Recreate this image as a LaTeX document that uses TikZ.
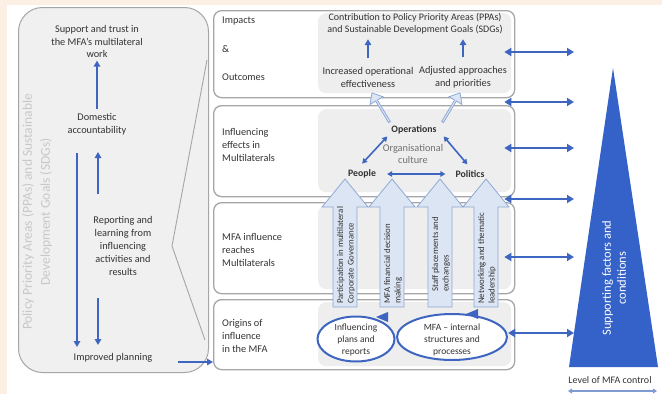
\documentclass[tikz,border=0pt]{standalone}
\usepackage{fontspec}
\setmainfont{Carlito}
\usetikzlibrary{shapes.geometric,shapes.arrows,arrows.meta}
\definecolor{peach}{HTML}{FCEFE4}
\definecolor{myblue}{RGB}{62,102,192}
\definecolor{triblue}{RGB}{52,98,200}
\definecolor{boxgray}{HTML}{A6A6A6}
\definecolor{innergray}{HTML}{EEEEEE}
\definecolor{leftgray}{HTML}{F0F0F0}
\definecolor{fatfill}{HTML}{DCE5F3}
\definecolor{fatborder}{HTML}{8FA9D6}
\definecolor{txtgray}{HTML}{C8C8C8}
\definecolor{txt}{HTML}{333333}
\begin{document}
\begin{tikzpicture}[x=1pt,y=-1pt,
  every node/.style={inner sep=0pt, text=txt},
  lbl/.style={align=center, font=\fontsize{10.3}{12.8}\selectfont},
  boxlbl/.style={align=left, anchor=west, font=\fontsize{10.3}{13}\selectfont},
  vlbl/.style={align=left, anchor=west, rotate=90, font=\fontsize{8.8}{10.5}\selectfont},
  bld/.style={font=\fontsize{9.8}{11}\selectfont\bfseries},
  bluearr/.style={draw=myblue, line width=1.8pt, -{Triangle[length=6pt,width=6.5pt]}},
  dbl/.style={draw=myblue, line width=2.2pt, {Triangle[length=7pt,width=8pt]}-{Triangle[length=7pt,width=8pt]}},
  dblsm/.style={draw=myblue, line width=1.6pt, {Triangle[length=5pt,width=5.5pt]}-{Triangle[length=5pt,width=5.5pt]}},
  frame/.style={draw=boxgray, line width=1.3pt, rounded corners=8pt, fill=white, anchor=north west},
  innerbox/.style={fill=innergray, rounded corners=8pt, anchor=north west},
  fat/.style={draw=fatborder, fill=fatfill, line width=0.8pt},
  fatdiag/.style={single arrow, draw=fatborder, fill=fatfill, line width=0.8pt, minimum height=34pt, minimum width=15pt, single arrow head extend=2.5pt, single arrow tip angle=80},
  ell/.style={ellipse, draw=myblue, line width=2pt, fill=white}
]
% background
\fill[peach] (0,0) rectangle (662,394);
\fill[white] (7,5) rectangle (662,394);
\path[use as bounding box] (0,0) rectangle (662,394);

% ---------------- left box ----------------
\node[draw=boxgray, line width=1pt, fill=leftgray, rounded corners=24pt, anchor=north west,
      minimum width=190pt, minimum height=365pt] (lb) at (18,7) {};
\draw[boxgray, line width=0.9pt] (207,60) -- (172,246) -- (205,340);

\node[rotate=90, align=center, text=txtgray, font=\fontsize{13.5}{18}\selectfont] (ppa) at (37,212)
  {Policy Priority Areas (PPAs) and Sustainable\\Development Goals (SDGs)};

\node[lbl] (sup) at (97,41.5) {Support and trust in\\the MFA's multilateral\\work};
\node[lbl] (dom) at (97,124.5) {Domestic\\accountability};
\node[lbl] (rep) at (123,246) {Reporting and\\learning from\\influencing\\activities and\\results};
\node[lbl] (imp) at (113,358) {Improved planning};

\coordinate (la1) at (77,153);
\coordinate (la2) at (77,347);
\coordinate (sa1) at (98,194);
\coordinate (sa2) at (98,152);
\coordinate (sb1) at (98,298);
\coordinate (sb2) at (98,345);
\coordinate (ip) at (178,362);

\draw[bluearr] ([yshift=5pt]dom.north) -- ([yshift=-2.5pt]sup.south);
\draw[bluearr] (la1) -- (la2);
\draw[bluearr] (sa1) -- (sa2);
\draw[bluearr] (sb1) -- (sb2);

% ---------------- middle boxes ----------------
\node[frame, minimum width=301pt, minimum height=87pt] (b1) at (213,10) {};
\node[frame, minimum width=301pt, minimum height=91pt] (b2) at (213,105) {};
\node[frame, minimum width=301pt, minimum height=91pt] (b3) at (213,202) {};
\node[frame, minimum width=301pt, minimum height=70pt] (b4) at (213,299) {};

\node[innerbox, minimum width=193pt, minimum height=80pt] (g1) at (318,13) {};
\node[innerbox, minimum width=193pt, minimum height=83pt] (g2) at (318,109) {};
\node[innerbox, minimum width=193pt, minimum height=84pt] (g3) at (318,205) {};
\node[innerbox, minimum width=193pt, minimum height=64pt] (g4) at (318,302) {};

\draw[bluearr] (ip) -- (b4.west |- ip);

% box labels
\node[boxlbl] (l1a) at (222,21) {Impacts};
\node[boxlbl] (l1b) at (222,49) {\&};
\node[boxlbl] (l1c) at (222,77) {Outcomes};
\node[boxlbl] (l2) at (222,145) {Influencing\\effects in\\Multilaterals};
\node[boxlbl] (l3) at (222,250) {MFA influence\\reaches\\Multilaterals};
\node[boxlbl] (l4) at (222,336) {Origins of\\influence\\in the MFA};

% box 1 content
\node[lbl, font=\fontsize{10}{12}\selectfont] (con) at (415,24) {Contribution to Policy Priority Areas (PPAs)\\and Sustainable Development Goals (SDGs)};
\node[lbl] (inc) at (368,77.5) {Increased operational\\effectiveness};
\node[lbl] (adj) at (463,77.5) {Adjusted approaches\\and priorities};
\draw[bluearr] ([yshift=9pt]inc.north) -- ([yshift=-4.5pt]inc.north |- con.south);
\draw[bluearr] ([yshift=9pt]adj.north) -- ([yshift=-4.5pt]adj.north |- con.south);

% box 2 content
\node[bld] (ops) at (414,130) {Operations};
\node[lbl, text=txt!70] (org) at (413,154) {Organisational\\culture};
\node[bld] (peo) at (362,174) {People};
\node[bld] (pol) at (470,174) {Politics};
\draw[dblsm] ([shift={(-14pt,6pt)}]peo.north east) -- ([shift={(-4pt,-2pt)}]ops.south west);
\draw[dblsm] ([shift={(7pt,-2pt)}]ops.south east) -- ([shift={(12pt,6pt)}]pol.north west);
\draw[dblsm] ([xshift=11pt]peo.east) -- ([xshift=-10pt]pol.west);

% diagonal fat arrows
\node[fatdiag, rotate=121] (fa1) at (381,108) {};
\node[fatdiag, rotate=59] (fa2) at (451,108) {};

% vertical fat arrows
\foreach \cx in {345,392,440,486}{
  \draw[fat] (\cx-12,307) -- (\cx-12,207) -- (\cx-23,207) -- (\cx,179) -- (\cx+23,207)
     -- (\cx+12,207) -- (\cx+12,307) -- cycle;
}
\node[vlbl] (v1) at (346,304) {Participation in multilateral\\Corporate Governance};
\node[vlbl] (v2) at (393,304) {MFA financial decision\\making};
\node[vlbl] (v3) at (441,292) {Staff placements and\\exchanges};
\node[vlbl] (v4) at (487,304) {Networking and thematic\\leadership};

% box 4 ellipses
\node[ell, minimum width=77pt, minimum height=45pt] (e1) at (356,339) {};
\node[ell, minimum width=110pt, minimum height=46pt] (e2) at (452,337) {};
\node[lbl, font=\fontsize{9.5}{12}\selectfont] (e1t) at (356,340) {Influencing\\plans and\\reports};
\node[lbl, font=\fontsize{9.5}{12}\selectfont] (e2t) at (452,340) {MFA -- internal\\structures and\\processes};
\fill[myblue] (388,312) -- (388,322) -- (376,317) -- cycle;
\fill[myblue] (478,309) -- (478,319) -- (466,314) -- cycle;

% right double arrows
\coordinate (r1) at (574,52);
\coordinate (r2) at (574,102);
\coordinate (r3) at (574,148);
\coordinate (r4) at (574,199);
\coordinate (r5) at (574,257);
\coordinate (r6) at (574,333);
\draw[dbl] (b1.east |- r1) ++(-11,0) -- (r1);
\draw[dbl] (b1.east |- r2) ++(-11,0) -- (r2);
\draw[dbl] (b2.east |- r3) ++(-11,0) -- (r3);
\draw[dbl] (b2.east |- r4) ++(-11,0) -- (r4);
\draw[dbl] (b3.east |- r5) ++(-11,0) -- (r5);
\draw[dbl] (e2.east |- r6) -- (r6);

% triangle
\fill[triblue] (569,367) -- (658,367) -- (613,68) -- cycle;
\node[rotate=90, align=center, text=white, font=\fontsize{12.5}{15}\selectfont] (sf) at (614,278)
  {Supporting factors and\\conditions};

\node[lbl, font=\fontsize{10}{12}\selectfont] (lev) at (610,380) {Level of MFA control};
\coordinate (lv1) at (568,391);
\coordinate (lv2) at (657,391);
\draw[draw=fatborder!80!myblue, line width=1.6pt, {Triangle[length=4pt,width=5pt]}-{Triangle[length=4pt,width=5pt]}] (lv1) -- (lv2);
\end{tikzpicture}
\end{document}
